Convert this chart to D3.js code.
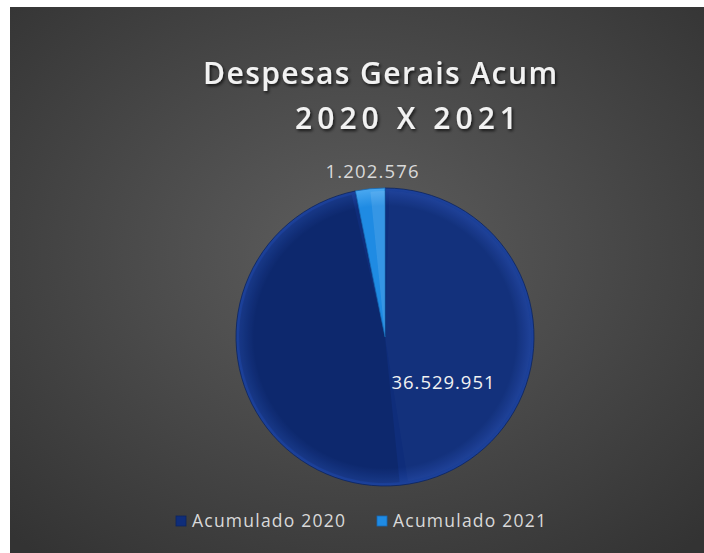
<!DOCTYPE html>
<html><head><meta charset="utf-8">
<script src="https://cdn.jsdelivr.net/npm/d3@7"></script>
<style>html,body{margin:0;padding:0;background:#fff;}svg{display:block;}</style>
</head><body>
<svg id="chart" width="704" height="553"></svg>
<script>
const categories = ["Acumulado 2020", "Acumulado 2021"];
const values = [36529951, 1202576];
const valueLabels = ["36.529.951", "1.202.576"];
const titleLines = ["Despesas Gerais Acum", "2020 X 2021"];
const colors = ["#0f2d7a", "#1f8be3"];
const lightColors = ["#1d429c", "#4aa8f0"];
const darkColors = ["#0a2360", "#1469b8"];

const svg = d3.select("#chart");
const W = 704, H = 553;
const defs = svg.append("defs");

const bg = defs.append("radialGradient").attr("id","bg").attr("cx","50%").attr("cy","45%").attr("r","72%");
bg.append("stop").attr("offset","0%").attr("stop-color","#5e5e5e");
bg.append("stop").attr("offset","100%").attr("stop-color","#333333");
svg.append("rect").attr("x",10).attr("y",7).attr("width",W-10).attr("height",H-7).attr("fill","url(#bg)");

const sh = defs.append("filter").attr("id","tshadow").attr("x","-10%").attr("y","-30%").attr("width","120%").attr("height","160%");
sh.append("feDropShadow").attr("dx",1.5).attr("dy",2).attr("stdDeviation",1.5).attr("flood-color","#000").attr("flood-opacity",0.7);

const titleX = [380, 406], titleY = [84, 129], titleLen = [354, 222];
const title = svg.append("g").attr("filter","url(#tshadow)");
title.selectAll("text").data(titleLines).join("text")
  .attr("x",(d,i)=>titleX[i]).attr("y",(d,i)=>titleY[i])
  .attr("text-anchor","middle")
  .attr("font-family","'Open Sans', sans-serif").attr("font-weight","600")
  .attr("font-size",30)
  .attr("textLength",(d,i)=>titleLen[i]).attr("lengthAdjust","spacing")
  .attr("fill","#f2f2f2").text(d=>d);

const cx = 385, cy = 337, r = 149;
const pie = d3.pie().sort(null).value(d=>d);
const arcs = pie(values);
const arc = d3.arc().innerRadius(0).outerRadius(r);

categories.forEach((c,i)=>{
  const g = defs.append("radialGradient").attr("id","sl"+i).attr("gradientUnits","userSpaceOnUse")
    .attr("cx",0).attr("cy",0).attr("r",r);
  g.append("stop").attr("offset","0%").attr("stop-color",colors[i]);
  g.append("stop").attr("offset","88%").attr("stop-color",colors[i]);
  g.append("stop").attr("offset","100%").attr("stop-color",lightColors[i]);
});

const pg = svg.append("g").attr("transform",`translate(${cx},${cy})`);
pg.selectAll("path.slice").data(arcs).join("path").attr("class","slice")
  .attr("d",arc).attr("fill",(d,i)=>`url(#sl${i})`)
  .attr("stroke",(d,i)=>darkColors[i]).attr("stroke-width",0.8);

// bevel facets
const facet = d3.arc().innerRadius(0).outerRadius(r-3);
const big = arcs[0];
pg.append("path").attr("d",facet({startAngle:Math.PI*0.968, endAngle:big.endAngle-0.03}))
  .attr("fill","#000").attr("opacity",0.1);
pg.append("path").attr("d",facet({startAngle:big.startAngle+0.03, endAngle:Math.PI*0.95}))
  .attr("fill","#fff").attr("opacity",0.02);
const small = arcs[1];
const mid = (small.startAngle+small.endAngle)/2;
pg.append("path").attr("d",facet({startAngle:mid, endAngle:small.endAngle}))
  .attr("fill","#fff").attr("opacity",0.1);

const lx = [443, 372], ly = [389, 178], lLen = [103, 93];
svg.selectAll("text.vl").data(arcs).join("text").attr("class","vl")
  .attr("x",(d,i)=>lx[i]).attr("y",(d,i)=>ly[i]).attr("text-anchor","middle")
  .attr("font-family","'Open Sans', sans-serif").attr("font-size",18.5)
  .attr("textLength",(d,i)=>lLen[i]).attr("lengthAdjust","spacing")
  .attr("fill",(d,i)=>i===0?"#f2f2f2":"#d9d9d9").text((d,i)=>valueLabels[i]);

const legX = [176, 377];
const leg = svg.selectAll("g.leg").data(categories).join("g").attr("class","leg")
  .attr("transform",(d,i)=>`translate(${legX[i]},516)`);
leg.append("rect").attr("width",10).attr("height",10).attr("fill",(d,i)=>colors[i])
  .attr("stroke",(d,i)=>darkColors[i]).attr("stroke-width",0.8);
leg.append("text").attr("x",16).attr("y",11).attr("font-family","'Open Sans', sans-serif")
  .attr("font-size",17.5).attr("textLength",153).attr("lengthAdjust","spacing")
  .attr("fill","#d9d9d9").text(d=>d);
</script>
</body></html>
